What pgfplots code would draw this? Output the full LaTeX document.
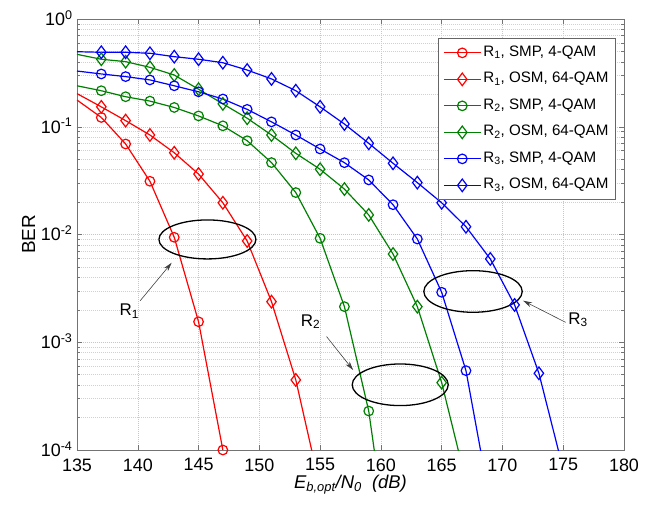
\documentclass[border=0pt]{standalone}
\usepackage{pgfplots}
\pgfplotsset{compat=1.18}
\usepackage{fontspec}
\setmainfont{Liberation Sans}
\usetikzlibrary{arrows.meta}
\definecolor{mgreen}{rgb}{0,0.5,0}
\begin{document}
\begin{tikzpicture}
\path[use as bounding box] (-77bp,-56bp) rectangle (587bp,450bp);
\begin{axis}[
  scale only axis, width=547bp, height=431bp,
  xmin=135, xmax=180, ymin=1e-4, ymax=1, ymode=log,
  xtick={135,140,...,180},
  ytick={1e-4,1e-3,1e-2,1e-1,1},
  yticklabels={10\textsuperscript{-4},10\textsuperscript{-3},10\textsuperscript{-2},10\textsuperscript{-1},10\textsuperscript{0}},
  minor x tick num=0,
  /pgf/number format/assume math mode=true,
  ticklabel style={font=\fontsize{18}{20}\selectfont},
  xticklabel style={yshift=-5bp},
  yticklabel style={xshift=-1bp, yshift=1bp},
  tick align=inside,
  major tick length=5bp, minor tick length=3bp,
  axis line style={black!55},
  every tick/.style={black!55},
  grid=both,
  major grid style={black!22, dash pattern=on 1bp off 1bp},
  minor grid style={black!18, dash pattern=on 1bp off 1bp},
  xlabel={\textit{E\textsubscript{b,opt}/N\textsubscript{0}~~(dB)}},
  xlabel style={font=\fontsize{18.5}{20}\selectfont, yshift=3bp},
  ylabel={BER},
  ylabel style={font=\fontsize{19}{21}\selectfont, yshift=-1bp},
  every axis plot/.append style={line width=1.2bp},
  legend style={at={(0.985,0.956)}, anchor=north east, draw=black!60, line width=0.8bp,
    font=\fontsize{15.2}{17}\selectfont, inner xsep=5bp, inner ysep=4bp,
    row sep=5.5bp, nodes={text height=12bp, text depth=5bp, inner ysep=2bp}},
  legend cell align=left,
  legend image code/.code={\draw[mark repeat=2,mark phase=2,#1] plot coordinates {(0bp,0bp) (18.5bp,0bp) (37bp,0bp)};},
]
% leading segments
\addplot[red, no marks, forget plot] coordinates {(135,0.177) (137,0.122)};
\addplot[red, no marks, forget plot] coordinates {(135,0.203) (137,0.153)};
\addplot[mgreen, no marks, forget plot] coordinates {(135,0.240) (137,0.216)};
\addplot[mgreen, no marks, forget plot] coordinates {(135,0.470) (137,0.423)};
\addplot[blue, no marks, forget plot] coordinates {(135,0.329) (137,0.309)};
\addplot[blue, no marks, forget plot] coordinates {(135,0.497) (137,0.491)};

\addplot[red, mark=o, mark size=4.8bp, mark options={solid, line width=1.2bp}] coordinates {
 (137,0.122) (139,0.0692) (141,0.0312) (143,0.00942) (145,0.00155) (147,1.0e-4)};
\addlegendentry{R\textsubscript{1}, SMP, 4-QAM}
\addplot[red, mark=diamond, mark size=6.3bp, mark options={solid, line width=1.2bp}] coordinates {
 (137,0.153) (139,0.114) (141,0.0838) (143,0.0574) (145,0.0364) (147,0.0197) (149,0.00871) (151,0.00238) (153,4.47e-4) (155,4.5e-5)};
\addlegendentry{R\textsubscript{1}, OSM, 64-QAM}
\addplot[mgreen, mark=o, mark size=4.8bp, mark options={solid, line width=1.2bp}] coordinates {
 (137,0.216) (139,0.190) (141,0.173) (143,0.151) (145,0.126) (147,0.102) (149,0.0742) (151,0.0465) (153,0.0245) (155,0.00922) (157,0.00214) (159,2.30e-4) (161,5.8e-6)};
\addlegendentry{R\textsubscript{2}, SMP, 4-QAM}
\addplot[mgreen, mark=diamond, mark size=6.3bp, mark options={solid, line width=1.2bp}] coordinates {
 (137,0.423) (139,0.402) (141,0.356) (143,0.302) (145,0.223) (147,0.163) (149,0.120) (151,0.0838) (153,0.0567) (155,0.0403) (157,0.0264) (159,0.0152) (161,0.00659) (163,0.00214) (165,4.22e-4) (167,5.1e-5)};
\addlegendentry{R\textsubscript{2}, OSM, 64-QAM}
\addplot[blue, mark=o, mark size=4.8bp, mark options={solid, line width=1.2bp}] coordinates {
 (137,0.309) (139,0.292) (141,0.272) (143,0.240) (145,0.211) (147,0.181) (149,0.145) (151,0.111) (153,0.0838) (155,0.0622) (157,0.0464) (159,0.0321) (161,0.0189) (163,0.00908) (165,0.00291) (167,5.45e-4) (169,3.2e-5)};
\addlegendentry{R\textsubscript{3}, SMP, 4-QAM}
\addplot[blue, mark=diamond, mark size=6.3bp, mark options={solid, line width=1.2bp}] coordinates {
 (137,0.491) (139,0.491) (141,0.481) (143,0.447) (145,0.423) (147,0.393) (149,0.336) (151,0.278) (153,0.216) (155,0.153) (157,0.106) (159,0.0702) (161,0.0458) (163,0.0303) (165,0.0197) (167,0.0118) (169,0.00593) (171,0.00222) (173,5.15e-4) (175,6.6e-5)};
\addlegendentry{R\textsubscript{3}, OSM, 64-QAM}

% ellipses
\draw[black, line width=1.3bp] (axis cs:145.73,0.0090) ellipse [x radius=48.5bp, y radius=19.5bp];
\draw[black, line width=1.3bp] (axis cs:161.59,4.03e-4) ellipse [x radius=48bp, y radius=20.8bp];
\draw[black, line width=1.3bp] (axis cs:167.58,2.96e-3) ellipse [x radius=49.2bp, y radius=20.8bp];

% annotations
\draw[black!75, line width=0.6bp, -{Stealth[length=9bp,width=5bp]}] (axis cs:140.2,2.43e-3) -- (axis cs:142.79,5.47e-3);
\draw[black!75, line width=0.6bp, -{Stealth[length=9bp,width=5bp]}] (axis cs:155.53,1.13e-3) -- (axis cs:157.72,5.52e-4);
\draw[black!75, line width=0.6bp, -{Stealth[length=9bp,width=5bp]}] (axis cs:175.2,1.53e-3) -- (axis cs:171.7,2.43e-3);
\node[font=\fontsize{17}{19}\selectfont, anchor=west, inner sep=0pt] at (axis cs:138.5,1.95e-3) {R\textsubscript{1}};
\node[font=\fontsize{17}{19}\selectfont, anchor=west, inner sep=0pt] at (axis cs:153.4,1.55e-3) {R\textsubscript{2}};
\node[font=\fontsize{17}{19}\selectfont, anchor=west, inner sep=0pt] at (axis cs:175.4,1.62e-3) {R\textsubscript{3}};
\end{axis}
\end{tikzpicture}
\end{document}
